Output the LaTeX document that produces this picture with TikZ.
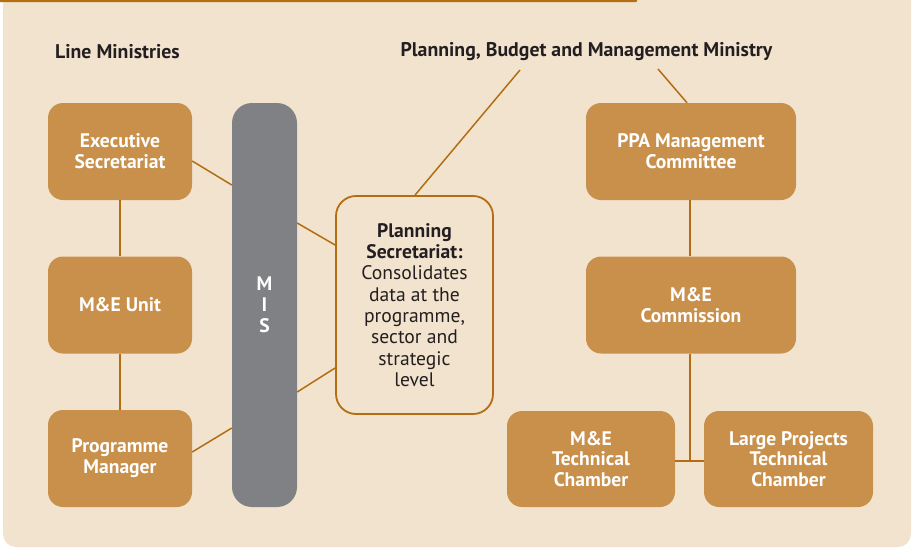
\documentclass[tikz,border=0pt]{standalone}
\usepackage{fontspec}
\setmainfont{PT Sans}
\definecolor{bg}{HTML}{F2E3CE}
\definecolor{tanc}{HTML}{C8904B}
\definecolor{lnc}{HTML}{B36D12}
\definecolor{misgray}{HTML}{808184}
\definecolor{txt}{HTML}{231F20}
\begin{document}
\begin{tikzpicture}[x=1pt,y=-1pt,
  tanbox/.style={fill=tanc, rounded corners=15pt, text=white,
    font=\bfseries\fontsize{19.6}{20.8}\selectfont, align=center, inner sep=0pt},
  misbox/.style={fill=misgray, rounded corners=20pt, text=white,
    font=\bfseries\fontsize{19.6}{20.8}\selectfont, align=center, inner sep=0pt},
  psbox/.style={fill=bg, draw=lnc, line width=1.8pt, rounded corners=20pt, text=txt,
    font=\fontsize{19.6}{21.3}\selectfont, align=center, inner sep=0pt},
  heading/.style={text=txt, font=\bfseries\fontsize{19.8}{22}\selectfont, inner sep=0pt},
  conn/.style={draw=lnc, line width=1.5pt}]
\useasboundingbox (0,0) rectangle (913,549);
\fill[white] (0,0) rectangle (913,549);
\fill[bg, rounded corners=13pt] (3,-30) rectangle (911,547);
\fill[lnc, rounded corners=1.2pt] (-5,-3) rectangle (637,2.2);

\node[heading, anchor=west] (lm) at (55,52) {Line Ministries};
\node[heading] (pbm) at (586.5,52) {Planning, Budget and Management Ministry};
\coordinate (pbmL) at (520,70);
\coordinate (pbmR) at (658,69);

\node[tanbox, minimum width=144pt, minimum height=97pt] (exec) at (120,151.5) {Executive\\Secretariat};
\node[tanbox, minimum width=144pt, minimum height=97pt] (meu) at (120,305) {M\&E Unit};
\node[tanbox, minimum width=144pt, minimum height=97pt] (pm) at (120,458.5) {Programme\\Manager};

\node[misbox, minimum width=65pt, minimum height=404pt] (mis) at (264.5,305) {M\\I\\S};

\node[psbox, minimum width=157pt, minimum height=218pt] (ps) at (414.5,305)
  {\textbf{Planning}\\\textbf{Secretariat:}\\Consolidates\\data at the\\programme,\\sector and\\strategic\\level};

\node[tanbox, minimum width=210pt, minimum height=97pt] (ppa) at (691,151.5) {PPA Management\\Committee};
\node[tanbox, minimum width=210pt, minimum height=97pt] (mec) at (691,305) {M\&E\\Commission};
\node[tanbox, minimum width=168pt, minimum height=96pt] (metc) at (591,459) {M\&E\\Technical\\Chamber};
\node[tanbox, minimum width=169pt, minimum height=96pt] (lptc) at (788.5,459) {Large Projects\\Technical\\Chamber};
\coordinate (j) at (690,461);

\draw[conn] (exec.south) -- (meu.north);
\draw[conn] (meu.south) -- (pm.north);
\draw[conn] ([shift={(0,9.5)}]exec.east) -- ([shift={(0,-120)}]mis.west);
\draw[conn] ([shift={(0,-6.5)}]pm.east) -- ([shift={(0,123)}]mis.west);
\draw[conn] ([shift={(0,-82)}]mis.east) -- ([shift={(0,-60)}]ps.west);
\draw[conn] ([shift={(0,87)}]mis.east) -- ([shift={(0,63)}]ps.west);
\draw[conn] ([shift={(0.5,0)}]ps.north) -- (pbmL);
\draw[conn] ([shift={(-4,0)}]ppa.north) -- (pbmR);
\draw[conn] ([shift={(-1,0)}]ppa.south) -- ([shift={(-1,0)}]mec.north);
\draw[conn] ([shift={(-1,0)}]mec.south) -- (j);
\draw[conn] (metc.east |- j) -- (lptc.west |- j);
\end{tikzpicture}
\end{document}
